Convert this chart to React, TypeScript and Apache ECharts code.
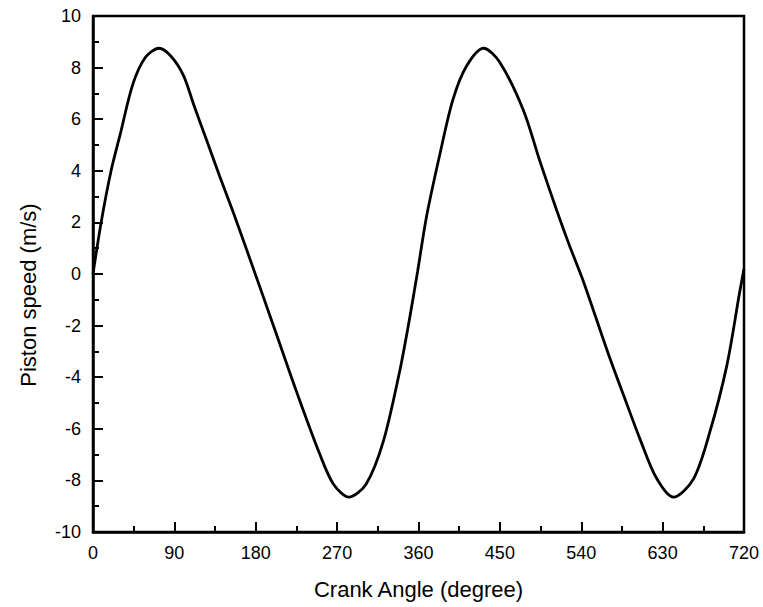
import React, { useEffect, useRef } from "react";
import * as echarts from "echarts";

const crankAngle = [
  0, 9, 20, 30, 44, 58, 73, 86, 100, 112, 125, 140, 155, 184, 205, 225, 251, 266,
  283, 302, 321, 339, 350, 359, 369, 384, 398, 413, 432, 450, 476, 494, 513, 527,
  542, 570, 590, 605, 623, 642, 664, 682, 701, 715, 720,
];
const pistonSpeed = [
  0, 2.0, 4.0, 5.4, 7.35, 8.4, 8.75, 8.45, 7.7, 6.5, 5.25, 3.8, 2.4, -0.45,
  -2.55, -4.55, -7.0, -8.15, -8.65, -8.15, -6.5, -3.8, -1.75, 0.1, 2.25, 4.7,
  6.75, 8.05, 8.75, 8.2, 6.35, 4.4, 2.45, 1.1, -0.25, -3.1, -5.0, -6.4, -7.9,
  -8.65, -7.95, -6.15, -3.55, -0.75, 0.2,
];
const xTicks = [0, 90, 180, 270, 360, 450, 540, 630, 720];
const yTicks = [-10, -8, -6, -4, -2, 0, 2, 4, 6, 8, 10];

export default function App() {
  const ref = useRef<HTMLDivElement>(null);
  useEffect(() => {
    if (!ref.current) return;
    const chart = echarts.init(ref.current, null, { renderer: "svg" });
    const font = "'Liberation Sans', Arial, Helvetica, sans-serif";
    chart.setOption({
      animation: false,
      backgroundColor: "#fff",
      grid: {
        left: 93,
        right: 19,
        top: 16,
        bottom: 75,
        show: true,
        borderColor: "#000",
        borderWidth: 2.5,
      },
      xAxis: {
        type: "value",
        min: xTicks[0],
        max: xTicks[xTicks.length - 1],
        interval: 90,
        name: "Crank Angle (degree)",
        nameLocation: "middle",
        nameGap: 46,
        nameTextStyle: { fontFamily: font, fontSize: 22, color: "#000" },
        axisLine: { show: true, onZero: false, lineStyle: { color: "#000", width: 2.5 } },
        axisTick: { show: true, inside: true, length: 10, lineStyle: { color: "#000", width: 2 } },
        minorTick: { show: true, splitNumber: 2, length: 6, lineStyle: { color: "#000", width: 2 } },
        splitLine: { show: false },
        axisLabel: { fontFamily: font, fontSize: 18, color: "#000", margin: 12 },
      },
      yAxis: {
        type: "value",
        min: yTicks[0],
        max: yTicks[yTicks.length - 1],
        interval: 2,
        name: "Piston speed (m/s)",
        nameLocation: "middle",
        nameGap: 54,
        nameTextStyle: { fontFamily: font, fontSize: 22, color: "#000", padding: [0, 42, 0, 0] },
        axisLine: { show: true, onZero: false, lineStyle: { color: "#000", width: 2.5 } },
        axisTick: { show: true, inside: true, length: 10, lineStyle: { color: "#000", width: 2 } },
        minorTick: { show: true, splitNumber: 2, length: 6, lineStyle: { color: "#000", width: 2 } },
        splitLine: { show: false },
        axisLabel: { fontFamily: font, fontSize: 18, color: "#000", margin: 12 },
      },
      series: [
        {
          type: "line",
          data: crankAngle.map((a, i) => [a, pistonSpeed[i]]),
          smooth: 0.3,
          showSymbol: false,
          lineStyle: { color: "#000", width: 2.8 },
        },
      ],
    });
    return () => chart.dispose();
  }, []);
  return <div ref={ref} style={{ width: 763, height: 607, position: "absolute", left: 0, top: 0 }} />;
}
